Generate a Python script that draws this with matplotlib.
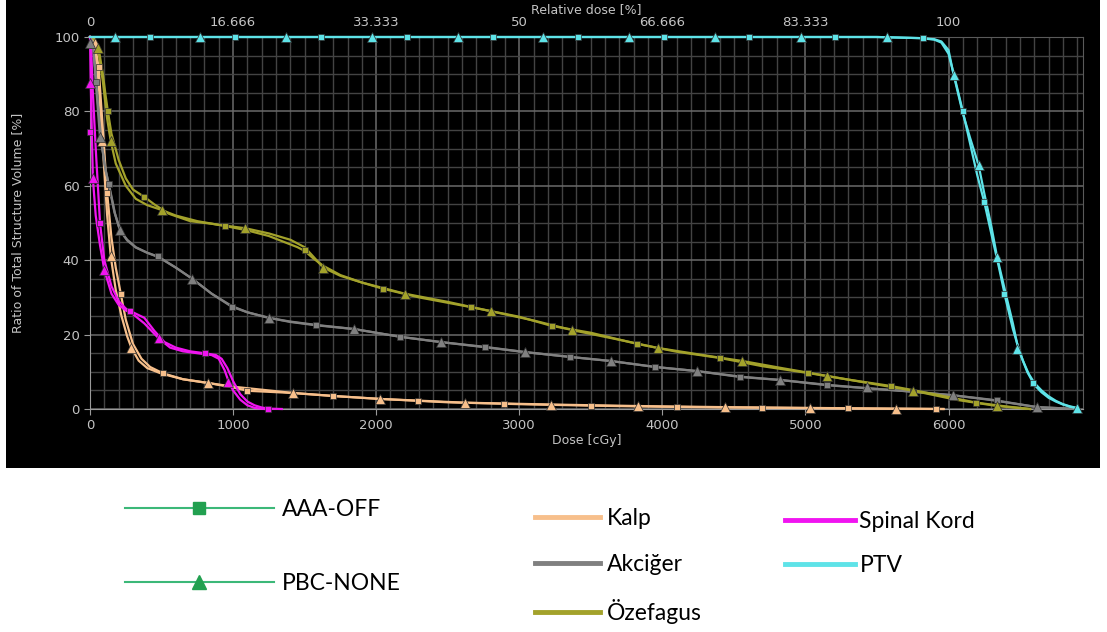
import matplotlib
matplotlib.use('Agg')
import matplotlib.pyplot as plt
from matplotlib.lines import Line2D
from matplotlib.patches import Rectangle
from matplotlib.ticker import MultipleLocator

# DVH data, dose in cGy, volume in %
# PTV
ptv_aaa_dose = [0, 1000, 2000, 3000, 4000, 5000, 5500, 5800, 5900, 5950, 6000, 6050, 6100, 6150, 6200, 6250,
                6300, 6350, 6400, 6450, 6500, 6550, 6600, 6650, 6700, 6750, 6800, 6850, 6900]
ptv_aaa_vol = [100, 100, 100, 100, 100, 100, 100, 99.7, 99.3, 98.5, 95.5, 88, 80, 71.5, 63, 55.6,
               47, 38.5, 29.5, 21.5, 15, 10, 6.5, 4.5, 3, 2, 1.2, 0.6, 0.2]
ptv_pbc_dose = [0, 1000, 2000, 3000, 4000, 5000, 5500, 5800, 5900, 5950, 6000, 6035, 6100, 6150, 6210, 6250,
                6300, 6340, 6400, 6450, 6480, 6520, 6560, 6600, 6650, 6700, 6750, 6800, 6850, 6900]
ptv_pbc_vol = [100, 100, 100, 100, 100, 100, 100, 99.7, 99.4, 98.8, 96.5, 90, 79.5, 73, 65.6, 58,
               49, 40.8, 31, 23, 17.5, 13, 9.5, 7, 5, 3.4, 2.2, 1.3, 0.7, 0.3]
ptv_sq_dose = [420, 1014, 1615, 2217, 2818, 3413, 4014, 4608, 5210, 5820, 6100, 6250, 6385, 6590]
ptv_sq_vol = [100, 100, 100, 100, 100, 100, 100, 100, 100, 99.6, 80, 55.6, 31, 7]
ptv_tri_dose = [175, 769, 1370, 1972, 2573, 3168, 3769, 4371, 4972, 5573, 6035, 6210, 6340, 6480, 6900]
ptv_tri_vol = [100, 100, 100, 100, 100, 100, 100, 100, 100, 100, 89.8, 65.6, 40.8, 16, 0.3]

# Özefagus
oz_aaa_dose = [0, 30, 60, 90, 110, 125, 150, 200, 250, 300, 380, 450, 550, 700, 850, 945, 1100, 1250, 1350,
               1450, 1500, 1560, 1630, 1750, 1900, 2050, 2300, 2660, 3000, 3230, 3500, 3825, 4100, 4405, 4700,
               5015, 5300, 5595, 5900, 6195, 6400, 6570]
oz_aaa_vol = [100, 99.5, 97, 90, 84, 80, 74, 67, 62, 59, 57, 55, 52.5, 50.5, 49.8, 49.2, 48, 46.5, 45,
              43.5, 42.5, 40.5, 38.5, 36, 34, 32.3, 30, 27.4, 24.8, 22.3, 20.5, 17.5, 15.4, 13.7, 11.5,
              9.7, 7.9, 6.2, 4, 1.7, 0.7, 0]
oz_pbc_dose = [0, 30, 55, 90, 120, 145, 180, 250, 320, 400, 500, 600, 750, 900, 1085, 1250, 1400, 1500, 1560,
               1630, 1750, 1900, 2200, 2500, 2800, 3100, 3370, 3700, 3970, 4300, 4560, 4850, 5150, 5450, 5755,
               6050, 6340, 6570]
oz_pbc_vol = [100, 99.5, 97, 88, 78, 72, 66, 60, 56.5, 54.8, 53.5, 52, 50.5, 49.5, 48.6, 47.2, 45.5, 43.5, 41,
              38, 35.8, 34, 31, 28.8, 26.3, 23.8, 21.2, 18.6, 16.4, 14.4, 12.9, 10.9, 8.9, 6.9, 4.9,
              2.5, 0.8, 0]
oz_sq_dose = [125, 380, 945, 1500, 2050, 2660, 3230, 3825, 4405, 5015, 5600, 6195]
oz_sq_vol = [80, 57, 49.2, 42.7, 32.3, 27.4, 22.3, 17.5, 13.7, 9.7, 6.1, 1.7]
oz_tri_dose = [55, 145, 500, 1085, 1630, 2200, 2800, 3370, 3970, 4560, 5150, 5755, 6340]
oz_tri_vol = [97, 72, 53.5, 48.6, 38, 31, 26.3, 21.2, 16.4, 12.9, 8.9, 4.9, 0.8]

# Akciğer
ak_aaa_dose = [0, 20, 40, 60, 80, 100, 130, 170, 210, 260, 320, 400, 475, 600, 715, 850, 990, 1100, 1250, 1400,
               1580, 1845, 2170, 2450, 2760, 3040, 3355, 3640, 3950, 4240, 4545, 4825, 5150, 5425, 5700, 6030,
               6300, 6620, 6900]
ak_aaa_vol = [100, 98, 90, 80, 72, 66, 60.5, 53, 48, 45.5, 43.5, 42, 41, 38, 35, 31, 27.5, 26, 24.5, 23.5,
              22.6, 21.5, 19.4, 18, 16.7, 15.3, 14, 12.9, 11.3, 10.2, 8.6, 7.8, 6.5, 5.6, 4.8, 3.7,
              2.5, 0.5, 0]
ak_pbc_dose = [0, 20, 40, 70, 90, 110, 140, 175, 210, 260, 320, 400, 480, 600, 715, 850, 990, 1100, 1250, 1400,
               1580, 1845, 2170, 2450, 2760, 3040, 3355, 3640, 3950, 4240, 4545, 4825, 5150, 5425, 5700, 6030,
               6300, 6620, 6900]
ak_pbc_vol = [100, 98.4, 88, 73, 69, 64, 59, 52.5, 48, 45.3, 43.4, 42, 40.8, 38, 35, 31, 27.7, 26, 24.5, 23.4,
              22.5, 21.5, 19.4, 18, 16.6, 15.3, 14, 12.9, 11.3, 10.2, 8.7, 7.8, 6.4, 5.6, 4.8, 3.7,
              2.4, 0.5, 0]
ak_sq_dose = [40, 130, 475, 990, 1580, 2170, 2760, 3355, 3950, 4545, 5150, 5750, 6340]
ak_sq_vol = [88, 60.5, 41, 27.5, 22.6, 19.4, 16.7, 14, 11.3, 8.6, 6.5, 4.6, 2.3]
ak_tri_dose = [0, 70, 210, 715, 1250, 1845, 2450, 3040, 3640, 4240, 4825, 5430, 6030, 6620]
ak_tri_vol = [98.4, 73, 48, 35, 24.5, 21.5, 18, 15.3, 12.9, 10.2, 7.8, 6, 3.7, 0.5]

# Kalp
kalp_aaa_dose = [0, 30, 60, 90, 120, 150, 180, 215, 250, 300, 360, 420, 510, 650, 825, 1000, 1100, 1420, 1700,
                 2030, 2500, 3000, 3500, 4000, 4500, 5000, 5500, 5965]
kalp_aaa_vol = [100, 99, 92, 75, 58, 46, 38, 31, 24, 17.5, 13.5, 11.3, 9.6, 8, 7, 5.8, 4.9, 4.3, 3.5,
                2.7, 1.8, 1.3, 0.9, 0.6, 0.4, 0.25, 0.1, 0]
kalp_pbc_dose = [0, 30, 60, 90, 120, 145, 180, 220, 260, 290, 340, 400, 500, 650, 825, 1000, 1420, 1700, 2030,
                 2620, 3225, 3830, 4435, 5000, 5630, 5965]
kalp_pbc_vol = [100, 98, 88, 70, 52, 41, 32, 25, 19.5, 16.4, 13, 11, 9.5, 8, 7, 6, 4.3, 3.5, 2.7,
                1.7, 1.2, 0.8, 0.5, 0.3, 0.1, 0]
kalp_sq_dose = [60, 120, 215, 510, 1100, 1700, 2295, 2895, 3500, 4100, 4700, 5295, 5910]
kalp_sq_vol = [92, 58, 31, 9.6, 4.9, 3.5, 2.1, 1.3, 0.9, 0.6, 0.4, 0.2, 0.05]
kalp_tri_dose = [35, 85, 145, 290, 825, 1420, 2030, 2620, 3225, 3830, 4435, 5030, 5630]
kalp_tri_vol = [98.5, 72, 41, 16.4, 7, 4.3, 2.7, 1.7, 1.2, 0.8, 0.5, 0.3, 0.1]

# Spinal Kord
sk_aaa_dose = [0, 10, 20, 40, 70, 100, 150, 200, 250, 300, 380, 450, 520, 600, 700, 800, 880, 920, 960, 1000,
               1050, 1100, 1150, 1200, 1250, 1340]
sk_aaa_vol = [100, 95, 85, 70, 50, 40, 33, 29, 27, 26, 24.5, 21, 18, 16.5, 15.5, 15, 14.5, 13.5, 11, 7.5,
              4, 2, 1, 0.4, 0.1, 0]
sk_pbc_dose = [0, 5, 20, 40, 70, 100, 150, 200, 250, 300, 380, 480, 560, 650, 750, 850, 900, 940, 970, 1000,
               1050, 1100, 1150, 1220]
sk_pbc_vol = [100, 88, 62, 52, 44, 37.4, 31, 28, 26.5, 25.5, 23, 19, 16.5, 15.5, 15, 14.5, 13.5, 10.5, 7.3, 5,
              2.5, 1, 0.3, 0]
sk_sq_dose = [0, 70, 280, 805, 1245]
sk_sq_vol = [74.5, 50, 26.3, 15, 0]
sk_tri_dose = [3, 20, 100, 480, 965]
sk_tri_vol = [87.6, 62, 37.4, 19, 7.3]

structures = ['Kalp', 'Akciğer', 'Özefagus', 'Spinal Kord', 'PTV']
colors = ['#f7bf8b', '#808080', '#a3a22b', '#f014f0', '#5ee3e8']
top_labels = ['0', '16.666', '33.333', '50', '66.666', '83.333', '100']
bottom_ticks = [0, 1000, 2000, 3000, 4000, 5000, 6000]

curves = [
    (kalp_aaa_dose, kalp_aaa_vol, kalp_pbc_dose, kalp_pbc_vol),
    (ak_aaa_dose, ak_aaa_vol, ak_pbc_dose, ak_pbc_vol),
    (oz_aaa_dose, oz_aaa_vol, oz_pbc_dose, oz_pbc_vol),
    (sk_aaa_dose, sk_aaa_vol, sk_pbc_dose, sk_pbc_vol),
    (ptv_aaa_dose, ptv_aaa_vol, ptv_pbc_dose, ptv_pbc_vol),
]
markers = [
    (kalp_sq_dose, kalp_sq_vol, kalp_tri_dose, kalp_tri_vol),
    (ak_sq_dose, ak_sq_vol, ak_tri_dose, ak_tri_vol),
    (oz_sq_dose, oz_sq_vol, oz_tri_dose, oz_tri_vol),
    (sk_sq_dose, sk_sq_vol, sk_tri_dose, sk_tri_vol),
    (ptv_sq_dose, ptv_sq_vol, ptv_tri_dose, ptv_tri_vol),
]

fig = plt.figure(figsize=(11.07, 6.32), dpi=100)
fig.patch.set_facecolor('white')
# black panel behind the chart
fig.patches.append(Rectangle((6 / 1107, 1 - 468 / 632), 1094 / 1107, 468 / 632,
                             transform=fig.transFigure, facecolor='black', edgecolor='none', zorder=-10))

ax = fig.add_axes([90 / 1107, 1 - 409 / 632, 993 / 1107, 372 / 632])
ax.set_facecolor('black')
ax.set_xlim(0, 6940)
ax.set_ylim(0, 100)

ax.xaxis.set_major_locator(MultipleLocator(1000))
ax.xaxis.set_minor_locator(MultipleLocator(100))
ax.yaxis.set_major_locator(MultipleLocator(20))
ax.yaxis.set_minor_locator(MultipleLocator(5))
ax.grid(True, which='major', color='#6a6a6a', linewidth=1.1)
ax.grid(True, which='minor', color='#434343', linewidth=1.0)
ax.set_axisbelow(True)

tick_col = '#c4c4c4'
for s in ax.spines.values():
    s.set_color('#5a5a5a')
ax.spines['left'].set_color('#9a9a9a')
ax.spines['bottom'].set_color('#9a9a9a')
ax.tick_params(which='major', colors='#9a9a9a', labelcolor=tick_col, labelsize=9.5, length=4, direction='out')
ax.tick_params(which='minor', length=0)
ax.set_xticks(bottom_ticks)

ax.set_xlabel('Dose [cGy]', color=tick_col, fontsize=9, labelpad=1)
ax.set_ylabel('Ratio of Total Structure Volume [%]', color=tick_col, fontsize=9, labelpad=22)

top = ax.secondary_xaxis('top', functions=(lambda d: d / 60.0, lambda r: r * 60.0))
top.set_xticks([float(t) for t in top_labels], labels=top_labels)
top.tick_params(colors='#9a9a9a', labelcolor=tick_col, labelsize=9.5, length=0, pad=6)
top.spines['top'].set_visible(False)
top.set_xlabel('Relative dose [%]', color=tick_col, fontsize=9, labelpad=2)

for (ad, av, pd_, pv), (sd, sv, td, tv), col in zip(curves, markers, colors):
    ax.plot(ad, av, color=col, lw=1.6, clip_on=False, zorder=3)
    ax.plot(pd_, pv, color=col, lw=1.6, clip_on=False, zorder=3)
    ax.plot(sd, sv, ls='none', color=col, marker='s', ms=5, mec='#303030', mew=0.5, clip_on=False, zorder=4)
    ax.plot(td, tv, ls='none', color=col, marker='^', ms=7.5, mec='#303030', mew=0.5, clip_on=False, zorder=4)

# legends below the chart
leg_font = {'family': 'Lato', 'size': 16.5}
green = '#3cb878'
h_alg = [Line2D([], [], color=green, lw=1.5, marker='s', ms=8, mfc='#22a050', mec='#22a050'),
         Line2D([], [], color=green, lw=1.5, marker='^', ms=10, mfc='#22a050', mec='#22a050')]
fig.legend(h_alg, ['AAA-OFF', 'PBC-NONE'], loc='upper left', bbox_to_anchor=(125 / 1107, 1 - 499 / 632),
           frameon=False, prop=leg_font, handlelength=6.5, handletextpad=0.35, labelspacing=2.3,
           borderpad=0, borderaxespad=0)

h_s1 = [Line2D([], [], color=c, lw=3.5) for c in colors[:3]]
fig.legend(h_s1, structures[:3], loc='upper left', bbox_to_anchor=(535 / 1107, 1 - 508 / 632),
           frameon=False, prop=leg_font, handlelength=2.85, handletextpad=0.3, labelspacing=1.08,
           borderpad=0, borderaxespad=0)

h_s2 = [Line2D([], [], color=c, lw=3.5) for c in colors[3:]]
fig.legend(h_s2, structures[3:], loc='upper left', bbox_to_anchor=(785 / 1107, 1 - 511 / 632),
           frameon=False, prop=leg_font, handlelength=3.05, handletextpad=0.2, labelspacing=1.0,
           borderpad=0, borderaxespad=0)

fig.savefig('out.png', dpi=100, facecolor='white')
